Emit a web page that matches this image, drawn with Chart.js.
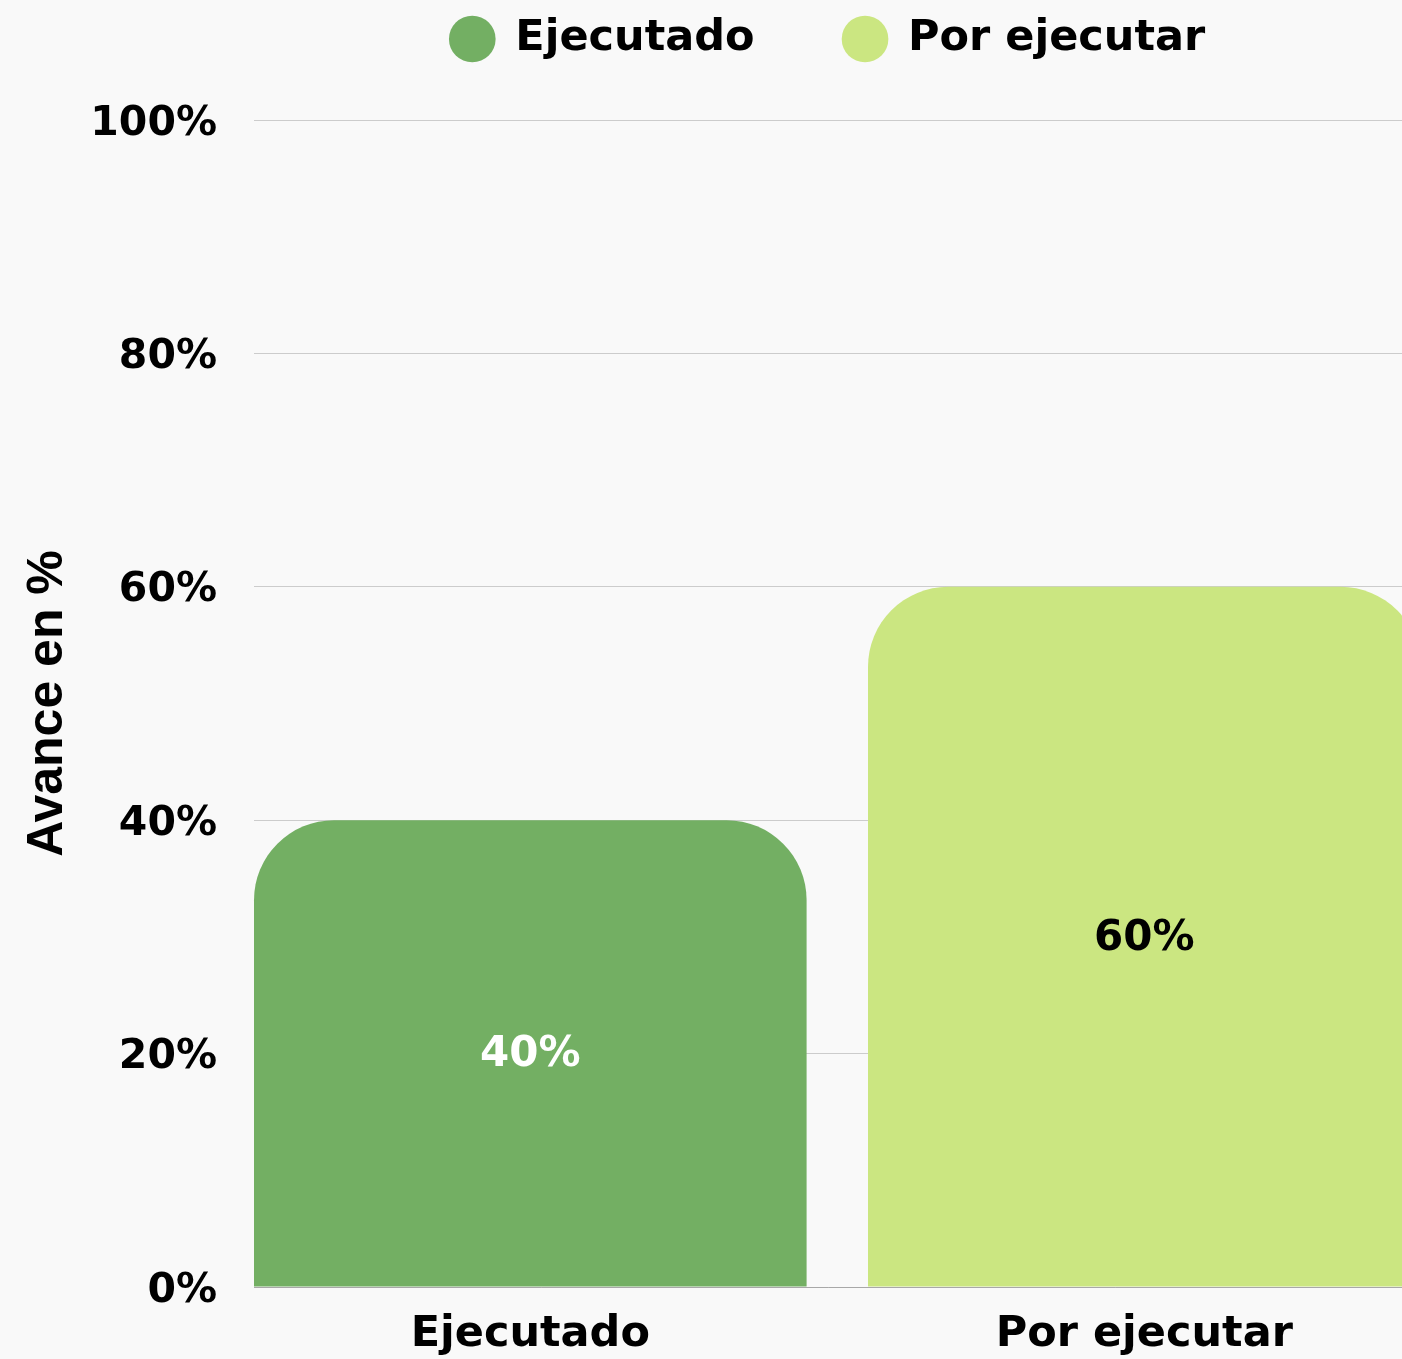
<!DOCTYPE html>
<html>
<head>
<meta charset="utf-8">
<script src="https://cdn.jsdelivr.net/npm/chart.js@4"></script>
<style>
  html, body { margin: 0; padding: 0; background: #f9f9f9; overflow: hidden; }
  #wrap { width: 1402px; height: 1359px; }
</style>
</head>
<body>
<div id="wrap"><canvas id="c" width="1402" height="1359"></canvas></div>
<script>
// ---- data ----
const categories = ['Ejecutado', 'Por ejecutar'];
const ejecutadoValues = [40, null];
const porEjecutarValues = [null, 60];
const yTicks = [0, 20, 40, 60, 80, 100];
const yTickLabels = ['0%', '20%', '40%', '60%', '80%', '100%'];
const yTitle = 'Avance en %';

const MAIN_FONT = '"DejaVu Sans", sans-serif';

function toPoints(values) {
  const pts = [];
  values.forEach((v, i) => { if (v !== null) pts.push({ x: i, y: v }); });
  return pts;
}

const valueLabels = {
  id: 'valueLabels',
  afterDatasetsDraw(chart) {
    const ctx = chart.ctx;
    ctx.save();
    ctx.font = 'bold 42px ' + MAIN_FONT;
    ctx.textAlign = 'center';
    ctx.textBaseline = 'middle';
    chart.data.datasets.forEach((ds, di) => {
      const meta = chart.getDatasetMeta(di);
      meta.data.forEach((el, i) => {
        const v = ds.data[i].y;
        ctx.fillStyle = ds.labelColor;
        ctx.fillText(v + '%', el.x, (el.y + el.base) / 2 + 2);
      });
    });
    ctx.restore();
  }
};

new Chart(document.getElementById('c'), {
  type: 'bar',
  data: {
    datasets: [
      {
        label: categories[0],
        data: toPoints(ejecutadoValues),
        backgroundColor: '#73af63',
        labelColor: '#ffffff',
        stack: 's',
        clip: false
      },
      {
        label: categories[1],
        data: toPoints(porEjecutarValues),
        backgroundColor: '#cbe681',
        labelColor: '#000000',
        stack: 's',
        clip: false
      }
    ]
  },
  options: {
    responsive: false,
    animation: false,
    categoryPercentage: 1,
    barPercentage: 0.9,
    borderRadius: { topLeft: 80, topRight: 80, bottomLeft: 0, bottomRight: 0 },
    borderSkipped: 'start',
    layout: { padding: { top: -71.5, left: 0, right: 0, bottom: 0 } },
    plugins: {
      legend: {
        position: 'top',
        fullSize: false,
        labels: {
          usePointStyle: true,
          pointStyle: 'circle',
          boxWidth: 43,
          boxHeight: 33,
          padding: 89,
          color: '#000',
          font: { family: MAIN_FONT, weight: 'bold', size: 43 }
        }
      },
      subtitle: {
        display: true,
        text: ' ',
        weight: 500,
        font: { size: 10 },
        padding: { top: 37.5, bottom: 0 }
      },
      tooltip: { enabled: false }
    },
    scales: {
      x: {
        type: 'linear',
        offset: false,
        stacked: true,
        min: -0.45,
        max: 1.4197,
        grid: { display: false, drawTicks: false },
        border: { display: true, color: '#a8a8a8', width: 1 },
        afterBuildTicks(scale) { scale.ticks = categories.map((c, i) => ({ value: i })); },
        afterFit(scale) { scale.height = 72; },
        ticks: {
          padding: 22,
          color: '#000',
          font: { family: MAIN_FONT, weight: 'bold', size: 43 },
          callback: (v) => categories[v]
        }
      },
      y: {
        type: 'linear',
        stacked: true,
        min: 0,
        max: 100,
        afterBuildTicks(scale) { scale.ticks = yTicks.map(v => ({ value: v })); },
        afterFit(scale) { scale.width = 254; },
        grid: { color: '#cccccc', lineWidth: 1, drawTicks: false },
        border: { display: false },
        ticks: {
          padding: 37,
          labelOffset: 4,
          color: '#000',
          font: { family: MAIN_FONT, weight: 'bold', size: 41 },
          callback: (v) => yTickLabels[yTicks.indexOf(v)]
        },
        title: {
          display: true,
          text: yTitle,
          color: '#000',
          font: { family: '"Liberation Sans", Arial, sans-serif', weight: 'bold', size: 50 },
          padding: { top: 18, bottom: 0 }
        }
      }
    }
  },
  plugins: [valueLabels]
});
</script>
</body>
</html>
